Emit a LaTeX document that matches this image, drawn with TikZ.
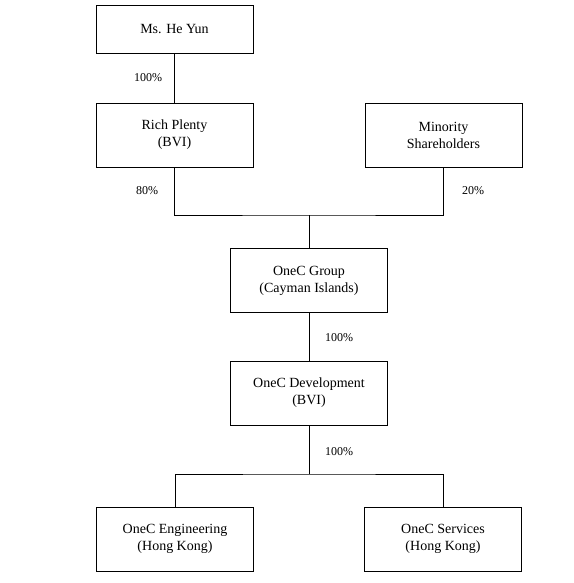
\documentclass[tikz,border=0pt]{standalone}
\usepackage{fontspec}
\setmainfont{Liberation Serif}
\usetikzlibrary{calc}

\tikzset{
  entity/.style={draw,line width=0.9pt,minimum width=157pt,minimum height=64pt,
    align=center,font=\fontsize{14}{17}\selectfont,inner sep=2pt},
  share/.style={font=\fontsize{12}{13}\selectfont},
  link/.style={line width=0.9pt}
}

\begin{document}
\begin{tikzpicture}[x=1pt,y=-1pt]
          \useasboundingbox (0,0) rectangle (573,583);
          % owners
          \node[entity,minimum height=48pt] (heyun) at (174.5,29){Ms. He Yun};
          \node[entity] (rich) at (174.5,135){Rich Plenty\\(BVI)};
          \node[entity] (minority) at (443.5,135){Minority\\Shareholders};
          
          % group companies
          \node[entity] (group) at (309,280.5){OneC Group\\(Cayman Islands)};
          \node[entity] (dev) at (309,393){OneC Development\\(BVI)};
          \node[entity] (eng) at (175,539){OneC Engineering\\(Hong Kong)};
          \node[entity] (serv) at (443,539){OneC Services\\(Hong Kong)};
          
          \coordinate (top join) at (309,215);
          \coordinate (low join) at (309,474);
          
          % holdings
          \draw[link] (heyun) -- (rich);
          \draw[link] (rich) |- (top join) -| (minority);
          \draw[link] (top join) -- (group);
          \draw[link] (group) -- (dev);
          \draw[link] (dev) -- (low join);
          \draw[link] (eng) |- (low join) -| (serv);
          
          % percentages
          \node[share] (p heyun) at (148,78){100\%};
          \node[share] (p rich) at (147,191){80\%};
          \node[share] (p minority) at (473,191){20\%};
          \node[share] (p group) at (339,338){100\%};
          \node[share] (p dev) at (339,452){100\%};
\end{tikzpicture}
\end{document}
